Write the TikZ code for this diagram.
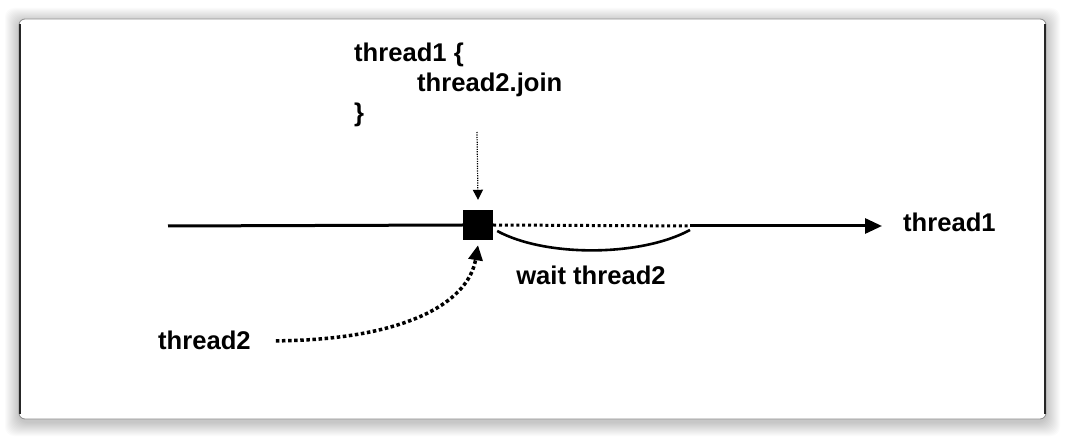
\documentclass[tikz,border=0pt]{standalone}
\usepackage{fontspec}
\setmainfont{Liberation Sans}
\usetikzlibrary{arrows.meta}
\begin{document}
\begin{tikzpicture}[x=1pt,y=-1pt,
  lbl/.style={font=\fontsize{25.6}{30}\selectfont\bfseries, inner sep=0pt, anchor=base west},
  timeline/.style={line width=3pt},
  waitdots/.style={line width=3pt, dash pattern=on 3pt off 2.8pt},
  pointer/.style={line width=1.2pt, dash pattern=on 1.2pt off 1.2pt, -{Triangle[length=10pt,width=10pt]}},
  joiner/.style={line width=3.5pt, dash pattern=on 3.5pt off 2.6pt, -{Triangle[length=15pt,width=14pt]}},
  blockbox/.style={fill=black, minimum size=30pt, inner sep=0pt}]
\useasboundingbox (0,0) rectangle (1066,438);
\fill[white] (0,0) rectangle (1066,438);
% soft drop shadow around the card
\foreach \d in {1,...,14} {
  \fill[black, opacity=0.014, rounded corners=9pt] (19-\d,19-\d+3) rectangle (1046+\d,419+\d+3);
}
% card
\fill[white, rounded corners=6pt] (19,19) rectangle (1046,419);
\draw[black!45, line width=0.8pt, rounded corners=6pt] (19,19) rectangle (1046,419);
\draw[black!85, line width=2.4pt] (20.2,24) -- (20.2,414);
\draw[black!85, line width=2.4pt] (1044.8,24) -- (1044.8,414);

% labels
\node[lbl] (code1) at (354,62) {thread1 \{};
\node[lbl] (code2) at (417,92) {thread2.join};
\node[lbl] (code3) at (354,122) {\}};
\node[lbl] (t1) at (903,232) {thread1};
\node[lbl] (t2) at (158,350) {thread2};
\node[lbl, anchor=base] (wait) at (591,285) {wait thread2};

% join point on the thread1 timeline
\node[blockbox] (join) at (478,225) {};
\coordinate (start) at (168,226);
\coordinate (waitend) at (690,226);
\coordinate (finish) at (882,226);
\coordinate (ptr) at (477,132);

% thread1 timeline
\draw[timeline] (start) -- (join.west);
\draw[waitdots] (join.east) -- (waitend);
\draw[timeline, -{Triangle[length=17pt,width=15pt]}] (waitend) -- (finish);

% waiting span
\draw[line width=2.6pt] ([xshift=4pt,yshift=-6pt]join.east) .. controls (545,257) and (640,257) .. ([yshift=-4pt]waitend);

% code pointer
\draw[pointer] (ptr) -- ([yshift=10pt]join.north);

% thread2 joining
\draw[joiner] ([xshift=25pt]t2.east) .. controls (400,340) and (468,305) .. ([yshift=-5pt]join.south);
\end{tikzpicture}
\end{document}
